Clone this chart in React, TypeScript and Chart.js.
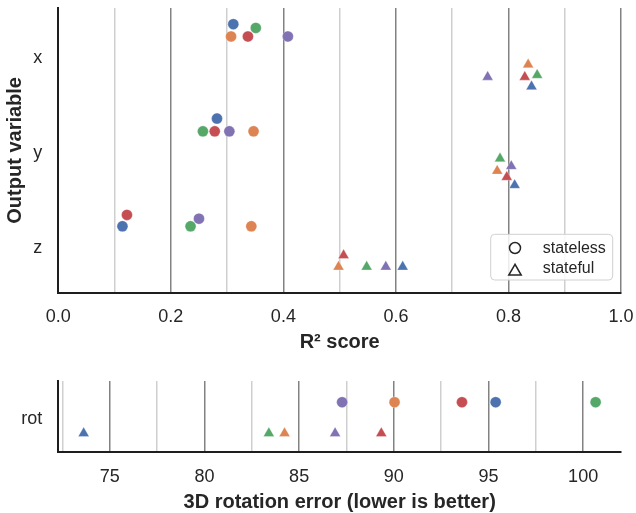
import React, { useEffect, useRef } from 'react';
import { Chart, registerables } from 'chart.js';

Chart.register(...registerables);

// ---------- data ----------
const modelColors = ['#4C72B0', '#DD8452', '#55A868', '#C44E52', '#8172B3'];
const outputVars = ['x', 'y', 'z'];
const stateLabels = ['stateless', 'stateful'];

// R² score per model (rows) and output variable (cols: x, y, z)
const statelessR2 = [
  [0.311, 0.282, 0.114],
  [0.307, 0.347, 0.343],
  [0.351, 0.257, 0.235],
  [0.337, 0.278, 0.122],
  [0.408, 0.304, 0.25],
];
// swarm offsets inside each category row
const statelessSwarm = [
  [-0.33, -0.335, -0.2],
  [-0.2, -0.2, -0.2],
  [-0.29, -0.2, -0.2],
  [-0.2, -0.2, -0.32],
  [-0.2, -0.2, -0.28],
];
const statefulR2 = [
  [0.841, 0.811, 0.612],
  [0.835, 0.78, 0.498],
  [0.851, 0.785, 0.548],
  [0.829, 0.797, 0.507],
  [0.763, 0.805, 0.582],
];
const statefulSwarm = [
  [0.327, 0.367, 0.227],
  [0.097, 0.217, 0.227],
  [0.207, 0.087, 0.227],
  [0.227, 0.282, 0.107],
  [0.227, 0.167, 0.227],
];

// 3D rotation error per model
const statelessRot = [95.38, 90.04, 100.66, 93.6, 87.27];
const statefulRot = [73.62, 84.23, 83.4, 89.34, 86.9];
const rotCategory = ['rot'];
const rotSwarm = [-0.2, 0.24];

// tick values and labels
const r2Ticks = [0, 0.1, 0.2, 0.3, 0.4, 0.5, 0.6, 0.7, 0.8, 0.9, 1.0];
const r2Labels = ['0.0', '', '0.2', '', '0.4', '', '0.6', '', '0.8', '', '1.0'];
const r2Range = [0, 1];
const rotTicks = [72.5, 75, 77.5, 80, 82.5, 85, 87.5, 90, 92.5, 95, 97.5, 100];
const rotLabels = ['', '75', '', '80', '', '85', '', '90', '', '95', '', '100'];
const rotRange = [72.28, 102.0];

// ---------- styles ----------
const FAMILY = '"Liberation Sans", Arial, Helvetica, sans-serif';
const TEXT = '#262626';
const MAJOR = '#828282';
const MINOR = '#cfcfcf';
const AXIS = '#1e1e1e';
const tickFont = { family: FAMILY, size: 18 };
const titleFont = { family: FAMILY, size: 20, weight: 'bold' as const };

const circleR = 5.5;
const triR = 6.3;

function makeDatasets(valsA: any[], offA: any[], valsB: any[], offB: any[], nCat: number) {
  const ds: any[] = [];
  const get = (arr: any, m: number, k: number) => (Array.isArray(arr[m]) ? arr[m][k] : arr[m]);
  modelColors.forEach((c, m) => {
    const a = [];
    const b = [];
    for (let k = 0; k < nCat; k++) {
      a.push({ x: get(valsA, m, k), y: k + get(offA, m, k) });
      b.push({ x: get(valsB, m, k), y: k + get(offB, m, k) });
    }
    ds.push({
      data: a,
      pointStyle: 'circle',
      pointRadius: circleR,
      backgroundColor: c,
      borderColor: 'rgba(255,255,255,0.6)',
      borderWidth: 0.5,
    });
    ds.push({
      data: b,
      pointStyle: 'triangle',
      pointRadius: triR,
      backgroundColor: c,
      borderColor: 'rgba(255,255,255,0.6)',
      borderWidth: 0.5,
    });
  });
  return ds;
}

const legendPlugin = {
  id: 'stateLegend',
  afterDraw(chart: any) {
    const { ctx } = chart;
    ctx.save();
    const x0 = 490.7, y0 = 234.3, w = 122, h = 45.7, r = 4;
    ctx.beginPath();
    ctx.moveTo(x0 + r, y0);
    ctx.lineTo(x0 + w - r, y0);
    ctx.arcTo(x0 + w, y0, x0 + w, y0 + r, r);
    ctx.lineTo(x0 + w, y0 + h - r);
    ctx.arcTo(x0 + w, y0 + h, x0 + w - r, y0 + h, r);
    ctx.lineTo(x0 + r, y0 + h);
    ctx.arcTo(x0, y0 + h, x0, y0 + h - r, r);
    ctx.lineTo(x0, y0 + r);
    ctx.arcTo(x0, y0, x0 + r, y0, r);
    ctx.closePath();
    ctx.fillStyle = 'rgba(255,255,255,0.85)';
    ctx.fill();
    ctx.strokeStyle = '#d0d0d0';
    ctx.lineWidth = 1;
    ctx.stroke();

    ctx.strokeStyle = TEXT;
    ctx.lineWidth = 1.5;
    ctx.beginPath();
    ctx.arc(515, 248, 5.5, 0, Math.PI * 2);
    ctx.stroke();
    ctx.beginPath();
    ctx.moveTo(515, 264.3);
    ctx.lineTo(508.8, 275);
    ctx.lineTo(521.2, 275);
    ctx.closePath();
    ctx.stroke();

    ctx.fillStyle = TEXT;
    ctx.font = `16px ${FAMILY}`;
    ctx.textAlign = 'left';
    ctx.textBaseline = 'middle';
    ctx.fillText(stateLabels[0], 542.7, 248.2);
    ctx.fillText(stateLabels[1], 542.7, 269);
    ctx.restore();
  },
};

function gridColorFor(labels: string[], skipFirst: boolean) {
  return (c: any) => {
    const i = c.index;
    if (skipFirst && i === 0) return 'rgba(0,0,0,0)';
    return labels[i] ? MAJOR : MINOR;
  };
}

function topConfig(): any {
  return {
    type: 'scatter',
    data: { datasets: makeDatasets(statelessR2, statelessSwarm, statefulR2, statefulSwarm, outputVars.length) },
    plugins: [legendPlugin],
    options: {
      responsive: false,
      animation: false,
      devicePixelRatio: 1,
      events: [],
      layout: { padding: { top: 8, right: 15, left: 0, bottom: 0 } },
      plugins: { legend: { display: false }, tooltip: { enabled: false } },
      scales: {
        x: {
          type: 'linear',
          min: r2Range[0],
          max: r2Range[1],
          afterBuildTicks: (s: any) => {
            s.ticks = r2Ticks.map((v) => ({ value: v }));
          },
          afterFit: (s: any) => {
            s.height = 67.3;
            s.paddingLeft = 0;
            s.paddingRight = 0;
          },
          ticks: {
            autoSkip: false,
            maxRotation: 0,
            padding: 13.6,
            font: tickFont,
            color: TEXT,
            callback: (_v: any, i: number) => r2Labels[i],
          },
          grid: { color: gridColorFor(r2Labels, true), lineWidth: 1.5, drawTicks: false },
          border: { color: AXIS, width: 2 },
          title: { display: true, text: 'R² score', font: titleFont, color: TEXT, padding: { top: 0, bottom: 5.2 } },
        },
        y: {
          type: 'linear',
          min: -0.5,
          max: 2.5,
          reverse: true,
          afterBuildTicks: (s: any) => {
            s.ticks = outputVars.map((_, k) => ({ value: k }));
          },
          afterFit: (s: any) => {
            s.width = 58.3;
            s.paddingTop = 0;
            s.paddingBottom = 0;
          },
          ticks: {
            autoSkip: false,
            padding: 16,
            labelOffset: 2.5,
            font: tickFont,
            color: TEXT,
            callback: (v: any) => outputVars[Math.round(v)],
          },
          grid: { display: false, drawTicks: false },
          border: { color: AXIS, width: 2 },
          title: { display: true, text: 'Output variable', font: titleFont, color: TEXT, padding: { top: 3.1, bottom: 0 } },
        },
      },
    },
  };
}

function bottomConfig(): any {
  const offA = modelColors.map(() => rotSwarm[0]);
  const offB = modelColors.map(() => rotSwarm[1]);
  return {
    type: 'scatter',
    data: { datasets: makeDatasets(statelessRot, offA, statefulRot, offB, rotCategory.length) },
    options: {
      responsive: false,
      animation: false,
      devicePixelRatio: 1,
      events: [],
      layout: { padding: { top: 21, right: 15, left: 0, bottom: 0 } },
      plugins: { legend: { display: false }, tooltip: { enabled: false } },
      scales: {
        x: {
          type: 'linear',
          min: rotRange[0],
          max: rotRange[1],
          afterBuildTicks: (s: any) => {
            s.ticks = rotTicks.map((v) => ({ value: v }));
          },
          afterFit: (s: any) => {
            s.height = 61.3;
            s.paddingLeft = 0;
            s.paddingRight = 0;
          },
          ticks: {
            autoSkip: false,
            maxRotation: 0,
            padding: 14.6,
            font: tickFont,
            color: TEXT,
            callback: (_v: any, i: number) => rotLabels[i],
          },
          grid: { color: gridColorFor(rotLabels, false), lineWidth: 1.5, drawTicks: false },
          border: { color: AXIS, width: 2 },
          title: {
            display: true,
            text: '3D rotation error (lower is better)',
            font: titleFont,
            color: TEXT,
            padding: { top: 0, bottom: -1.2 },
          },
        },
        y: {
          type: 'linear',
          min: -0.5,
          max: 0.5,
          reverse: true,
          afterBuildTicks: (s: any) => {
            s.ticks = rotCategory.map((_, k) => ({ value: k }));
          },
          afterFit: (s: any) => {
            s.width = 58.3;
            s.paddingTop = 0;
            s.paddingBottom = 0;
          },
          ticks: {
            autoSkip: false,
            padding: 16,
            labelOffset: 3,
            font: tickFont,
            color: TEXT,
            callback: (v: any) => rotCategory[Math.round(v)],
          },
          grid: { display: false, drawTicks: false },
          border: { color: AXIS, width: 2 },
        },
      },
    },
  };
}

export default function App() {
  const topRef = useRef<HTMLCanvasElement>(null);
  const botRef = useRef<HTMLCanvasElement>(null);
  useEffect(() => {
    const top = new Chart(topRef.current as HTMLCanvasElement, topConfig());
    const bot = new Chart(botRef.current as HTMLCanvasElement, bottomConfig());
    return () => {
      top.destroy();
      bot.destroy();
    };
  }, []);
  return (
    <div style={{ position: 'fixed', left: 0, top: 0, width: 636, height: 513, background: '#ffffff' }}>
      <canvas
        ref={topRef}
        width={636}
        height={360}
        style={{ position: 'absolute', left: 0, top: 0, width: 636, height: 360 }}
      />
      <canvas
        ref={botRef}
        width={636}
        height={153}
        style={{ position: 'absolute', left: 0, top: 360, width: 636, height: 153 }}
      />
    </div>
  );
}
